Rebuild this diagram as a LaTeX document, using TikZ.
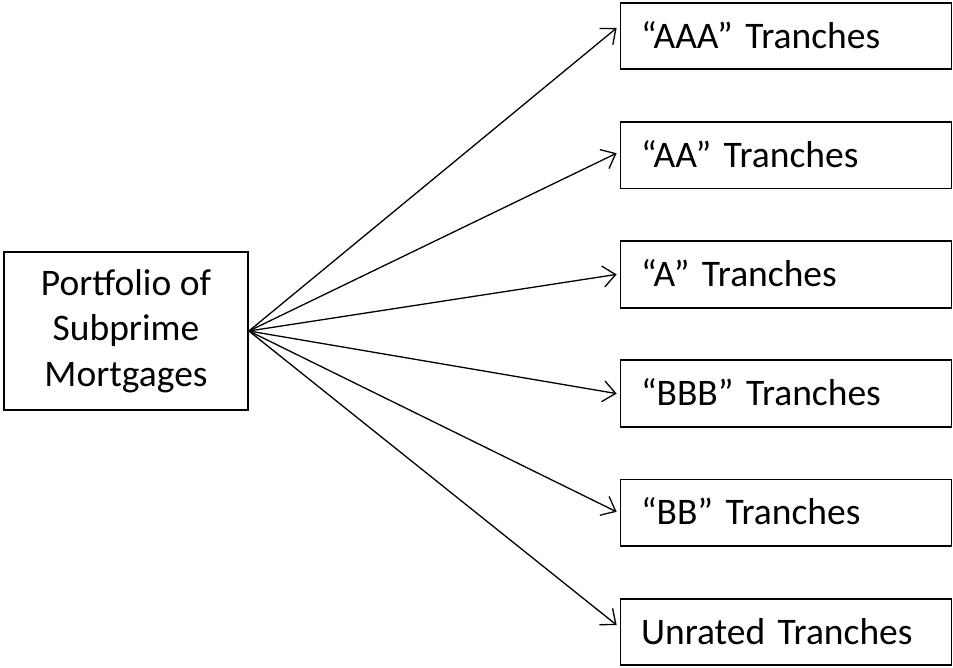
\documentclass[tikz,border=0pt]{standalone}
\usepackage{fontspec}
\setmainfont{Carlito}
\usetikzlibrary{arrows.meta,calc}
\begin{document}
\begin{tikzpicture}[x=1pt,y=-1pt,
  txt/.style={font=\fontsize{37.5pt}{45.6pt}\selectfont},
  srcbox/.style={draw, line width=1.8pt, txt, minimum width=244pt, minimum height=158.5pt, align=center, inner sep=0pt},
  trbox/.style={draw, line width=1.8pt, txt, text width=290pt, inner xsep=20.5pt, inner ysep=0pt, align=left,
     minimum height=66.5pt, text height=30pt, text depth=6pt},
  arr/.style={line width=1.3pt, -{Straight Barb[length=12.5pt,width=21pt,line width=1.3pt]}}]
\useasboundingbox (0,0) rectangle (953,667);
\node[srcbox] (p) at (126,331) {Portfolio of\\Subprime\\Mortgages};
\node[trbox] (b1) at (786,36) {“AAA”~Tranches};
\node[trbox] (b2) at (786,155.2) {“AA”~Tranches};
\node[trbox] (b3) at (786,274.4) {“A”~Tranches};
\node[trbox] (b4) at (786,393.6) {“BBB”~Tranches};
\node[trbox] (b5) at (786,512.8) {“BB”~Tranches};
\node[trbox] (b6) at (786,632) {Unrated Tranches};
\draw[arr] (p.east) -- ($(b1.west)+(-3,-8)$);
\draw[arr] (p.east) -- ($(b2.west)+(-3,-2)$);
\draw[arr] (p.east) -- ($(b3.west)+(-3,0)$);
\draw[arr] (p.east) -- ($(b4.west)+(-3,0)$);
\draw[arr] (p.east) -- ($(b5.west)+(-3,-1)$);
\draw[arr] (p.east) -- ($(b6.west)+(-3,-7)$);
\end{tikzpicture}
\end{document}
